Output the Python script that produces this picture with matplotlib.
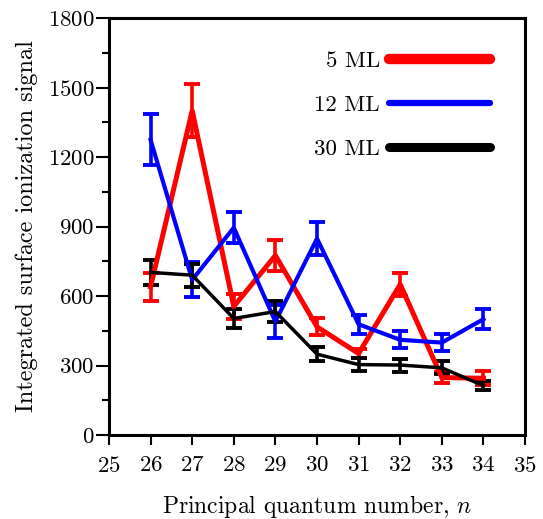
import matplotlib
matplotlib.use("Agg")
import matplotlib.pyplot as plt
from matplotlib.lines import Line2D

plt.rcParams['font.family'] = ['cmr10', 'DejaVu Serif']
plt.rcParams['mathtext.fontset'] = 'cm'
plt.rcParams['axes.formatter.use_mathtext'] = True

n = [26, 27, 28, 29, 30, 31, 32, 33, 34]

ml5 = [640, 1400, 555, 775, 467, 352, 650, 248, 245]
ml5_err = [60, 115, 55, 65, 36, 20, 50, 25, 30]

ml12 = [1274, 670, 895, 490, 848, 478, 411, 399, 500]
ml12_err = [110, 75, 68, 70, 72, 40, 37, 35, 44]

ml30 = [702, 690, 503, 533, 349, 304, 302, 290, 213]
ml30_err = [55, 50, 43, 45, 30, 28, 28, 28, 20]

series = [
    ('5 ML', ml5, ml5_err, '#ff0000', 3.6, 7.5),
    ('12 ML', ml12, ml12_err, '#0000ff', 3.0, 4.5),
    ('30 ML', ml30, ml30_err, '#000000', 2.5, 6.5),
]

fig = plt.figure(figsize=(5.43, 5.19), dpi=100)
ax = fig.add_axes([0.2007, 0.1618, 0.7662, 0.8035])

handles = []
for label, vals, errs, col, lw, leglw in series:
    ax.errorbar(n, vals, yerr=errs, color=col, lw=lw, elinewidth=2.6,
                capsize=5.5, capthick=2.8)
    handles.append(Line2D([], [], color=col, lw=leglw, solid_capstyle='round'))

ax.set_xlim(25, 35)
ax.set_ylim(0, 1800)
ax.set_xticks(range(25, 36))
ax.set_yticks(range(0, 1801, 300))
ax.set_yticks(range(150, 1800, 300), minor=True)

for s in ax.spines.values():
    s.set_linewidth(2.2)
ax.tick_params(axis='both', which='major', direction='out', width=1.5,
               labelsize=16.5)
ax.tick_params(axis='y', which='major', length=9.5, pad=1)
ax.tick_params(axis='y', which='minor', length=5, width=1.5)
ax.tick_params(axis='x', which='major', length=7, pad=8)

ax.set_xlabel('Principal quantum number, $n$', fontsize=17, labelpad=12)
ax.set_ylabel('Integrated surface ionization signal', fontsize=17.5,
              labelpad=7)

ax.legend(handles, [s[0] for s in series], loc='upper right',
          bbox_to_anchor=(0.965, 0.97), frameon=False, markerfirst=False,
          fontsize=16.5, handlelength=4.4, labelspacing=1.05,
          handletextpad=0.4)

fig.savefig('out.png', dpi=100)
